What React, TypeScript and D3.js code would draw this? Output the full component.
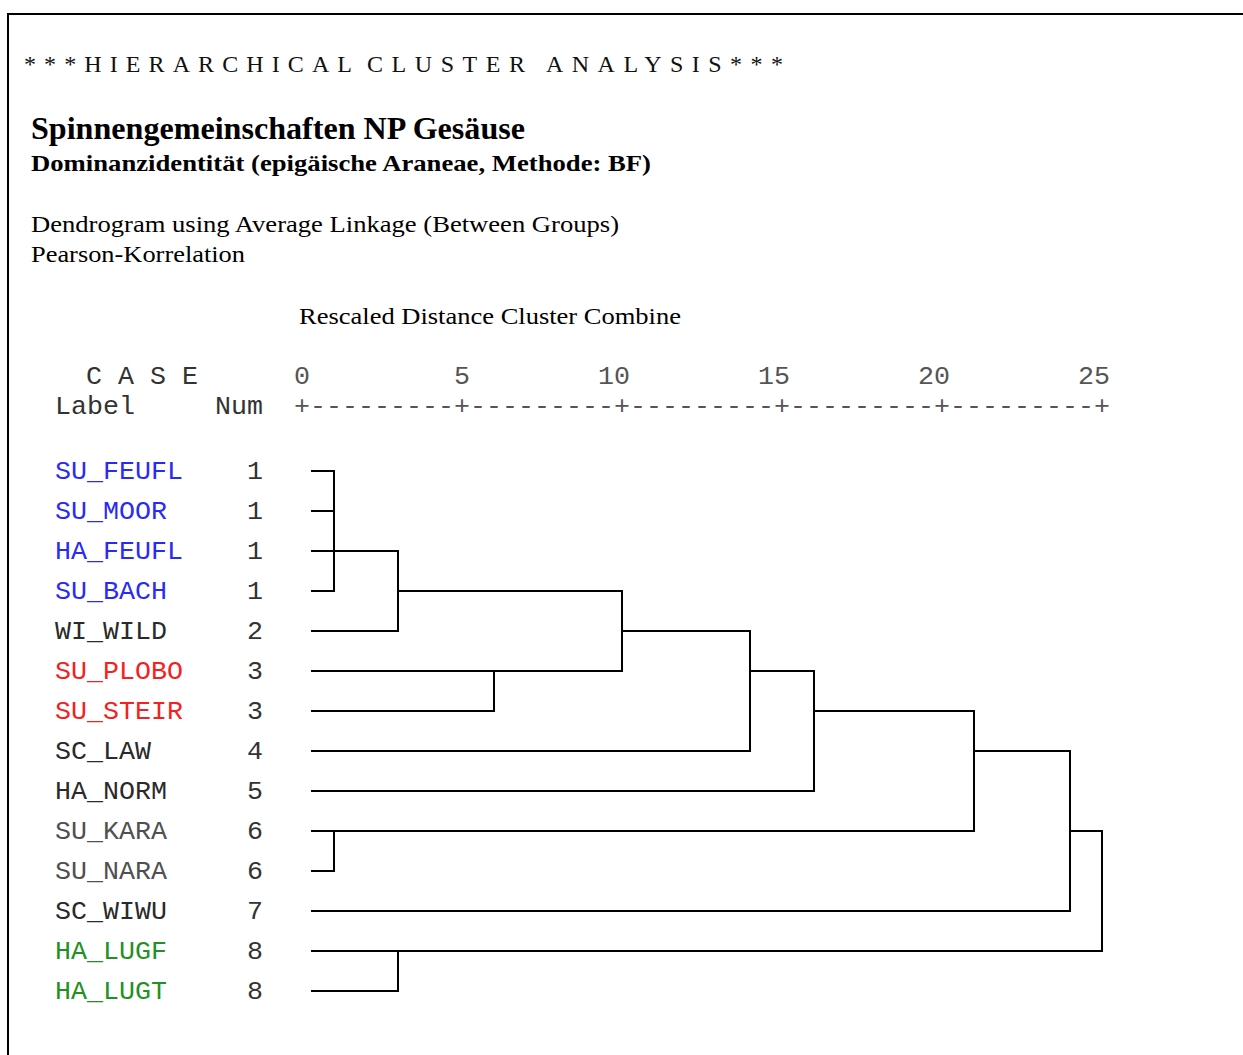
import React from "react";
import * as d3 from "d3";

// ---- data ----
const caseLabels = ["SU_FEUFL", "SU_MOOR", "HA_FEUFL", "SU_BACH", "WI_WILD", "SU_PLOBO", "SU_STEIR", "SC_LAW", "HA_NORM", "SU_KARA", "SU_NARA", "SC_WIWU", "HA_LUGF", "HA_LUGT"];
const caseNums = [1, 1, 1, 1, 2, 3, 3, 4, 5, 6, 6, 7, 8, 8];
const caseColors = ["#2a2af5", "#2a2af5", "#2a2af5", "#2a2af5", "#2a2a2a", "#f52020", "#f52020", "#2a2a2a", "#2a2a2a", "#505050", "#505050", "#2a2a2a", "#229022", "#229022"];
// agglomeration schedule: [cluster A, cluster B, rescaled distance]; ids >= 14 refer to earlier merges
const mergeA = [0, 14, 15, 9, 16, 12, 5, 18, 21, 22, 23, 24, 25];
const mergeB = [1, 2, 3, 10, 4, 13, 6, 20, 7, 8, 17, 11, 19];
const mergeDist = [1, 1, 1, 1, 3, 3, 6, 10, 14, 16, 21, 24, 25];
const axisTicks = [0, 5, 10, 15, 20, 25];
const titleWords = ["***HIERARCHICAL", "CLUSTER", "ANALYSIS***"];

const W = 1243;
const H = 1055;
const MONO = "'Liberation Mono', 'Courier New', monospace";
const SERIF = "'Liberation Serif', 'Times New Roman', serif";
const CH = 16; // mono char advance
const MONO_SIZE = CH / 0.6;

export default function App() {
  const x = d3.scaleLinear().domain([0, 25]).range([302, 1102]);
  const y = d3.scaleLinear().domain([0, caseLabels.length - 1]).range([471, 991]);
  const leafStart = x(0) + 9;

  // compute node rows and heights
  const n = caseLabels.length;
  const row: number[] = caseLabels.map((_, i) => i);
  const hgt: (number | null)[] = caseLabels.map(() => null);
  const paths: string[] = [];
  mergeA.forEach((a, k) => {
    const b = mergeB[k];
    const h = mergeDist[k];
    const ra = row[a];
    const rb = row[b];
    const xa = hgt[a] == null ? leafStart : x(hgt[a] as number);
    const xb = hgt[b] == null ? leafStart : x(hgt[b] as number);
    const xm = x(h);
    const p = d3.path();
    p.moveTo(xa, y(ra));
    p.lineTo(xm, y(ra));
    p.lineTo(xm, y(rb));
    p.lineTo(xb, y(rb));
    paths.push(p.toString());
    row[n + k] = Math.floor((ra + rb) / 2);
    hgt[n + k] = h;
  });

  const axisLine = axisTicks.slice(1).map(() => "+---------").join("") + "+";
  const titleX = [24, 367, 546];
  const titleLen = [328, 158, 237];

  return (
    <svg width={W} height={H} style={{ position: "absolute", left: 0, top: 0, background: "#fff" }}>
      <rect x={0} y={0} width={W} height={H} fill="#fff" />
      <rect x={8} y={14} width={W + 20} height={H + 20} fill="none" stroke="#000" strokeWidth={2} />

      {titleWords.map((w, i) => (
        <text key={w} x={titleX[i]} y={72} fontFamily={SERIF} fontSize={24} fill="#111" textLength={titleLen[i]} lengthAdjust="spacing">
          {w}
        </text>
      ))}
      <text x={31} y={139} fontFamily={SERIF} fontSize={31} fontWeight="bold" fill="#000" textLength={494} lengthAdjust="spacingAndGlyphs">
        Spinnengemeinschaften NP Gesäuse
      </text>
      <text x={31} y={171} fontFamily={SERIF} fontSize={23} fontWeight="bold" fill="#000" textLength={620} lengthAdjust="spacingAndGlyphs">
        Dominanzidentität (epigäische Araneae, Methode: BF)
      </text>
      <text x={31} y={232} fontFamily={SERIF} fontSize={24} fill="#000" textLength={588} lengthAdjust="spacingAndGlyphs">
        Dendrogram using Average Linkage (Between Groups)
      </text>
      <text x={31} y={262} fontFamily={SERIF} fontSize={24} fill="#000" textLength={214} lengthAdjust="spacingAndGlyphs">
        Pearson-Korrelation
      </text>
      <text x={299} y={324} fontFamily={SERIF} fontSize={24} fill="#000" textLength={382} lengthAdjust="spacingAndGlyphs">
        Rescaled Distance Cluster Combine
      </text>

      <g fontFamily={MONO} fontSize={MONO_SIZE}>
        <text x={86} y={384} fill="#333" style={{ whiteSpace: "pre" }}>C A S E</text>
        <text x={55} y={414} fill="#333">Label</text>
        <text x={215} y={414} fill="#333">Num</text>
        {axisTicks.map((t) => (
          <text key={t} x={x(t) + CH / 2} y={384} textAnchor="end" fill="#555">{t}</text>
        ))}
        <text x={x(0) - CH / 2} y={414} fill="#555" textLength={CH * axisLine.length} lengthAdjust="spacing">{axisLine}</text>
        {caseLabels.map((lab, i) => (
          <g key={lab}>
            <text x={55} y={y(i) + 8} fill={caseColors[i]}>{lab}</text>
            <text x={263} y={y(i) + 8} textAnchor="end" fill="#333">{caseNums[i]}</text>
          </g>
        ))}
      </g>

      <g fill="none" stroke="#000" strokeWidth={2} strokeLinejoin="miter" strokeLinecap="butt">
        {paths.map((d, i) => (
          <path key={i} d={d} />
        ))}
      </g>
    </svg>
  );
}
